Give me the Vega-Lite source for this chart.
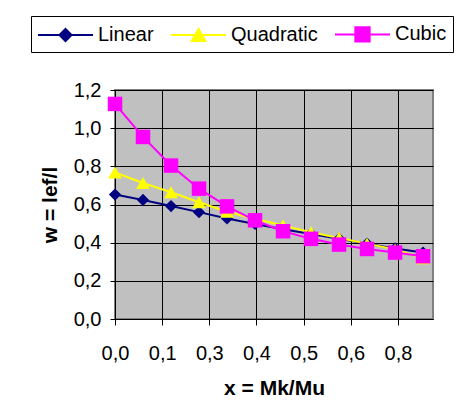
{
  "$schema": "https://vega.github.io/schema/vega-lite/v6.json",
  "width": 318,
  "height": 229,
  "autosize": {"type": "none"},
  "padding": {"left": 115, "top": 90, "right": 28, "bottom": 101},
  "background": "white",
  "config": {
    "locale": {"number": {"decimal": ",", "thousands": ".", "grouping": [3], "currency": ["", ""]}},
    "font": "Liberation Sans",
    "view": {"fill": "#C0C0C0", "stroke": "#808080", "strokeWidth": 2},
    "axis": {
      "grid": true,
      "gridColor": "black",
      "gridWidth": 1,
      "gridOpacity": 1,
      "domainColor": "black",
      "domainWidth": 1,
      "tickColor": "black",
      "labelFont": "Liberation Sans",
      "labelFontSize": 20,
      "labelColor": "black",
      "labelFlush": false,
      "labelOverlap": false,
      "titleFont": "Liberation Sans",
      "titleFontSize": 21,
      "titleFontWeight": "bold",
      "titleColor": "black"
    }
  },
  "data": {
    "values": [
      {"series": "Linear", "x": 0, "w": 0.652},
      {"series": "Linear", "x": 0.076, "w": 0.624},
      {"series": "Linear", "x": 0.152, "w": 0.592},
      {"series": "Linear", "x": 0.228, "w": 0.560},
      {"series": "Linear", "x": 0.304, "w": 0.527},
      {"series": "Linear", "x": 0.38, "w": 0.498},
      {"series": "Linear", "x": 0.456, "w": 0.470},
      {"series": "Linear", "x": 0.532, "w": 0.445},
      {"series": "Linear", "x": 0.608, "w": 0.420},
      {"series": "Linear", "x": 0.684, "w": 0.395},
      {"series": "Linear", "x": 0.76, "w": 0.370},
      {"series": "Linear", "x": 0.836, "w": 0.348},
      {"series": "Quadratic", "x": 0, "w": 0.768},
      {"series": "Quadratic", "x": 0.076, "w": 0.713},
      {"series": "Quadratic", "x": 0.152, "w": 0.664},
      {"series": "Quadratic", "x": 0.228, "w": 0.612},
      {"series": "Quadratic", "x": 0.304, "w": 0.562},
      {"series": "Quadratic", "x": 0.38, "w": 0.525},
      {"series": "Quadratic", "x": 0.456, "w": 0.490},
      {"series": "Quadratic", "x": 0.532, "w": 0.455},
      {"series": "Quadratic", "x": 0.608, "w": 0.425},
      {"series": "Quadratic", "x": 0.684, "w": 0.395},
      {"series": "Quadratic", "x": 0.76, "w": 0.365},
      {"series": "Quadratic", "x": 0.836, "w": 0.318},
      {"series": "Cubic", "x": 0, "w": 1.127},
      {"series": "Cubic", "x": 0.076, "w": 0.954},
      {"series": "Cubic", "x": 0.152, "w": 0.804},
      {"series": "Cubic", "x": 0.228, "w": 0.683},
      {"series": "Cubic", "x": 0.304, "w": 0.590},
      {"series": "Cubic", "x": 0.38, "w": 0.517},
      {"series": "Cubic", "x": 0.456, "w": 0.460},
      {"series": "Cubic", "x": 0.532, "w": 0.420},
      {"series": "Cubic", "x": 0.608, "w": 0.390},
      {"series": "Cubic", "x": 0.684, "w": 0.367},
      {"series": "Cubic", "x": 0.76, "w": 0.348},
      {"series": "Cubic", "x": 0.836, "w": 0.329}
    ]
  },
  "encoding": {
    "x": {
      "field": "x",
      "type": "quantitative",
      "scale": {"domain": [0, 0.863], "nice": false, "zero": false},
      "axis": {
        "values": [0, 0.128, 0.256, 0.384, 0.512, 0.64, 0.768],
        "format": ".1f",
        "tickSize": 6,
        "labelPadding": 18,
        "title": "x = Mk/Mu",
        "titlePadding": 14
      }
    },
    "y": {
      "field": "w",
      "type": "quantitative",
      "scale": {"domain": [0, 1.2], "nice": false},
      "axis": {
        "values": [0, 0.2, 0.4, 0.6, 0.8, 1.0, 1.2],
        "format": ".1f",
        "tickSize": 5,
        "labelPadding": 9,
        "title": "w = lef/l",
        "titlePadding": 13
      }
    },
    "color": {
      "field": "series",
      "type": "nominal",
      "sort": ["Linear", "Quadratic", "Cubic"],
      "scale": {"domain": ["Linear", "Quadratic", "Cubic"], "range": ["#000080", "#FFFF00", "#FF00FF"]},
      "legend": {
        "orient": "none",
        "legendX": -84,
        "legendY": -74,
        "direction": "horizontal",
        "title": null,
        "strokeColor": "black",
        "fillColor": "white",
        "padding": 6,
        "labelFont": "Liberation Sans",
        "labelFontSize": 20,
        "labelColor": "black",
        "symbolSize": 3025,
        "symbolStrokeWidth": 2,
        "labelOffset": 4,
        "columnPadding": 13,
        "encode": {
          "symbols": {
            "update": {
              "shape": {"signal": "datum.value === 'Linear' ? 'M-1,0L1,0M0,-0.22L0.22,0L0,0.22L-0.22,0Z' : datum.value === 'Quadratic' ? 'M-1,0L1,0M0,-0.22L0.25,0.22L-0.25,0.22Z' : 'M-1,0L1,0M-0.26,-0.26L0.26,-0.26L0.26,0.26L-0.26,0.26Z'"},
              "size": {"value": 3025},
              "y": {"value": 12},
              "strokeWidth": {"value": 2},
              "fill": {"scale": "color", "field": "value"},
              "stroke": {"scale": "color", "field": "value"},
              "fillOpacity": {"value": 1},
              "strokeOpacity": {"value": 1}
            }
          },
          "labels": {
            "update": {
              "y": {"value": 12}
            }
          }
        }
      }
    }
  },
  "layer": [
    {"mark": {"type": "line", "strokeWidth": 2}},
    {
      "transform": [{"filter": "datum.series === 'Linear'"}],
      "mark": {"type": "point", "shape": "diamond", "size": 150, "filled": true, "opacity": 1}
    },
    {
      "transform": [{"filter": "datum.series === 'Quadratic'"}],
      "mark": {"type": "point", "shape": "triangle-up", "size": 190, "filled": true, "opacity": 1}
    },
    {
      "transform": [{"filter": "datum.series === 'Cubic'"}],
      "mark": {"type": "point", "shape": "square", "size": 210, "filled": true, "opacity": 1}
    }
  ]
}
